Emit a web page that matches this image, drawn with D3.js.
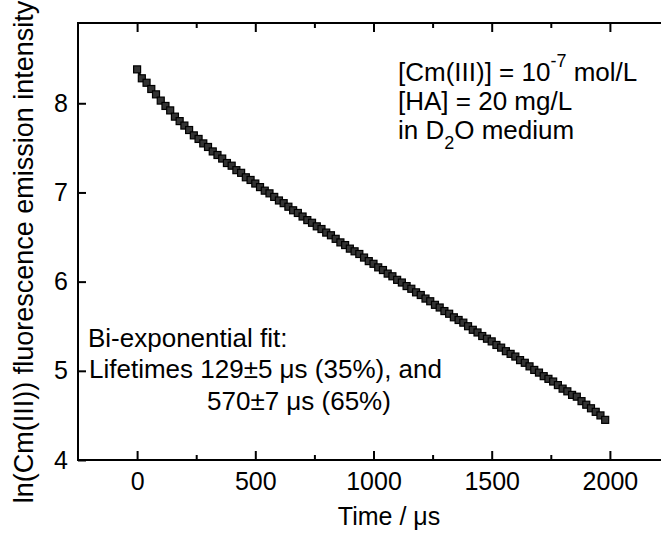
<!DOCTYPE html>
<html>
<head>
<meta charset="utf-8">
<script src="https://cdn.jsdelivr.net/npm/d3@7"></script>
<style>
  html, body { margin: 0; padding: 0; background: #fff; }
  svg { display: block; font-family: "Liberation Sans", Arial, sans-serif; }
</style>
</head>
<body>
<svg id="chart" width="661" height="535"></svg>
<script>
// ---- data ----
const timeUs = [0,20,40,60,80,100,120,140,160,180,200,220,240,260,280,300,320,340,360,380,
  400,420,440,460,480,500,520,540,560,580,600,620,640,660,680,700,720,740,760,780,
  800,820,840,860,880,900,920,940,960,980,1000,1020,1040,1060,1080,1100,1120,1140,1160,1180,
  1200,1220,1240,1260,1280,1300,1320,1340,1360,1380,1400,1420,1440,1460,1480,1500,1520,1540,1560,1580,
  1600,1620,1640,1660,1680,1700,1720,1740,1760,1780,1800,1820,1840,1860,1880,1900,1920,1940,1960,1980];
const lnIntensity = [8.38,8.28,8.23,8.16,8.10,8.03,7.97,7.92,7.85,7.80,7.75,7.70,7.64,7.60,7.55,7.51,7.46,7.42,7.38,7.33,
  7.30,7.25,7.22,7.17,7.14,7.10,7.06,7.02,6.99,6.95,6.91,6.88,6.84,6.80,6.77,6.73,6.69,6.66,6.62,6.59,
  6.55,6.52,6.48,6.44,6.41,6.37,6.34,6.31,6.27,6.23,6.20,6.16,6.13,6.09,6.06,6.02,5.99,5.95,5.92,5.88,
  5.85,5.81,5.78,5.74,5.71,5.67,5.64,5.60,5.57,5.54,5.50,5.46,5.43,5.39,5.36,5.33,5.29,5.26,5.22,5.19,
  5.16,5.12,5.09,5.05,5.01,4.98,4.94,4.91,4.88,4.84,4.80,4.77,4.73,4.71,4.66,4.62,4.58,4.54,4.50,4.45];
const xMajorTicks = [0, 500, 1000, 1500, 2000];
const xMinorTicks = [250, 750, 1250, 1750];
const yMajorTicks = [4, 5, 6, 7, 8];
const xTitle = "Time / μs";
const yTitle = "ln(Cm(III)) fluorescence emission intensity";

// ---- chart ----
const svg = d3.select("#chart");
svg.append("rect").attr("width", 661).attr("height", 535).attr("fill", "#fff");

const x = d3.scaleLinear().domain([-250, 2250]).range([78, 669]);
const y = d3.scaleLinear().domain([4, 8.9]).range([460, 23]);

const tickFont = "25px";

function styleAxis(g) {
  g.select(".domain").remove();
  g.selectAll(".tick line").attr("stroke", "#000").attr("stroke-width", 2);
  g.selectAll(".tick text").attr("fill", "#000").style("font-size", tickFont)
    .style("font-family", '"Liberation Sans", Arial, sans-serif');
}

// bottom axis
svg.append("g").attr("transform", "translate(0,460)")
  .call(d3.axisBottom(x).tickValues(xMajorTicks).tickSizeInner(-9).tickSizeOuter(0).tickPadding(12).tickFormat(d3.format("d")))
  .call(styleAxis);
svg.append("g").attr("transform", "translate(0,460)")
  .call(d3.axisBottom(x).tickValues(xMinorTicks).tickSizeInner(-5).tickSizeOuter(0).tickFormat(""))
  .call(styleAxis);
// top axis
svg.append("g").attr("transform", "translate(0,23)")
  .call(d3.axisTop(x).tickValues(xMajorTicks).tickSizeInner(-9).tickSizeOuter(0).tickFormat(""))
  .call(styleAxis);
svg.append("g").attr("transform", "translate(0,23)")
  .call(d3.axisTop(x).tickValues(xMinorTicks).tickSizeInner(-5).tickSizeOuter(0).tickFormat(""))
  .call(styleAxis);
// left axis
svg.append("g").attr("transform", "translate(78,0)")
  .call(d3.axisLeft(y).tickValues(yMajorTicks).tickSizeInner(-8).tickSizeOuter(0).tickPadding(10).tickFormat(d3.format("d")))
  .call(styleAxis);
// right axis
svg.append("g").attr("transform", "translate(669,0)")
  .call(d3.axisRight(y).tickValues(yMajorTicks).tickSizeInner(-8).tickSizeOuter(0).tickFormat(""))
  .call(styleAxis);

// frame
svg.append("rect")
  .attr("x", x(-250)).attr("y", y(8.9))
  .attr("width", x(2250) - x(-250)).attr("height", y(4) - y(8.9))
  .attr("fill", "none").attr("stroke", "#000").attr("stroke-width", 2);

// data
const pts = timeUs.map((t, i) => ({ t, v: lnIntensity[i] }));
svg.append("path").datum(pts)
  .attr("d", d3.line().x(d => x(d.t)).y(d => y(d.v)))
  .attr("fill", "none").attr("stroke", "#000").attr("stroke-width", 2.5);
const ms = 7;
svg.append("g").selectAll("rect").data(pts).join("rect")
  .attr("x", d => x(d.t) - ms / 2).attr("y", d => y(d.v) - ms / 2)
  .attr("width", ms).attr("height", ms)
  .attr("fill", "#333").attr("stroke", "#000").attr("stroke-width", 1.2);

// axis titles
svg.append("text").attr("x", 389).attr("y", 525).attr("text-anchor", "middle")
  .style("font-size", "25px").attr("fill", "#000").text(xTitle);
svg.append("text").attr("transform", "translate(33,252) rotate(-90)").attr("text-anchor", "middle")
  .style("font-size", "27px").attr("fill", "#000").text(yTitle);

// annotations (top right)
const annFont = "26px";
const t1 = svg.append("text").attr("x", 398).attr("y", 81).style("font-size", annFont).attr("fill", "#000");
t1.append("tspan").text("[Cm(III)] = 10");
t1.append("tspan").attr("dy", -14).style("font-size", "18px").text("-7");
t1.append("tspan").attr("dy", 14).text(" mol/L");
svg.append("text").attr("x", 398).attr("y", 110).style("font-size", annFont).attr("fill", "#000")
  .text("[HA] = 20 mg/L");
const t3 = svg.append("text").attr("x", 398).attr("y", 139).style("font-size", annFont).attr("fill", "#000");
t3.append("tspan").text("in D");
t3.append("tspan").attr("dy", 10).style("font-size", "18px").text("2");
t3.append("tspan").attr("dy", -10).text("O medium");

// annotations (bottom left)
svg.append("text").attr("x", 88).attr("y", 347).style("font-size", annFont).attr("fill", "#000")
  .text("Bi-exponential fit:");
svg.append("text").attr("x", 89).attr("y", 378).style("font-size", annFont).attr("fill", "#000")
  .text("Lifetimes 129±5 μs (35%), and");
svg.append("text").attr("x", 207).attr("y", 410).style("font-size", annFont).attr("fill", "#000")
  .text("570±7 μs (65%)");
</script>
</body>
</html>
